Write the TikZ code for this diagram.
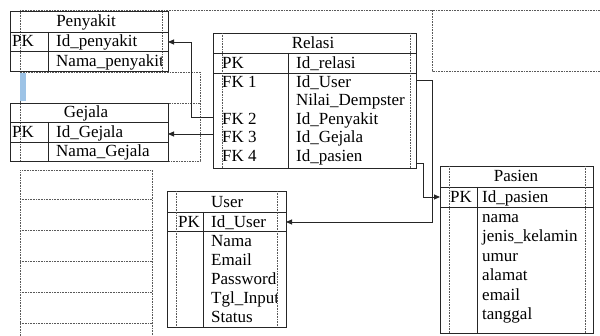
\documentclass[tikz,border=0pt]{standalone}
\usepackage{fontspec}
\setmainfont{Liberation Serif}
\usetikzlibrary{arrows.meta}
\definecolor{barblue}{RGB}{157,195,230}
\begin{document}
\begin{tikzpicture}[x=1pt,y=-1pt,
 solidl/.style={line width=0.9pt,black!85},
 dotl/.style={line width=0.7pt,black!65,dash pattern=on 0.8pt off 0.8pt},
 txt/.style={anchor=west,inner sep=0pt,font=\fontsize{17}{17}\selectfont,text height=11.5pt,text depth=3pt},
 hdr/.style={txt,anchor=center},
 conn/.style={line width=0.9pt,black!85,-{Triangle[length=6pt,width=5pt]}}]
\useasboundingbox (0,0) rectangle (600,336);
\fill[white] (0,0) rectangle (600,336);

% ---------- dotted frames ----------
\draw[dotl] (20,10) -- (600,10);
\draw[dotl] (20,10) -- (20,71) -- (162,71) -- (162,10);
\draw[dotl] (600,71) -- (432,71) -- (432,10);
\draw[dotl] (20,72) rectangle (200,161);
\draw[dotl] (20,103) -- (200,103);
\fill[barblue] (20,73) rectangle (26,101);
% left stack of empty boxes
\draw[dotl] (20,336) -- (20,170) -- (152,170) -- (152,336);
\foreach \yy in {199,230,261,292,323} \draw[dotl] (20,\yy) -- (152,\yy);

% ---------- Penyakit ----------
\draw[solidl] (10,11) rectangle (168,71);
\draw[solidl] (10,32) -- (168,32) (10,51) -- (168,51) (48,32) -- (48,71);
\node[hdr] (penT) at (86,22) {Penyakit};
\node[txt] (penPK) at (12,42) {PK};
\begin{scope}
\clip (0,0) rectangle (161,336);
\node[txt] (penId) at (56,42) {Id\_penyakit};
\node[txt] (penNm) at (56,62) {Nama\_penyakit};
\end{scope}
\coordinate (penIn) at (168,42);

% ---------- Gejala ----------
\draw[solidl] (10,103) rectangle (168,161);
\draw[solidl] (10,122) -- (168,122) (10,142) -- (168,142) (48,122) -- (48,161);
\node[hdr] (gejT) at (86,113) {Gejala};
\node[txt] (gejPK) at (12,133) {PK};
\node[txt] (gejId) at (56,133) {Id\_Gejala};
\node[txt] (gejNm) at (56,152) {Nama\_Gejala};
\coordinate (gejIn) at (168,134);

% ---------- Relasi ----------
\draw[solidl] (213,33) rectangle (416,168);
\draw[solidl] (213,53) -- (416,53) (213,73) -- (416,73) (288,53) -- (288,168);
\draw[dotl] (222,33) -- (222,168) (410,33) -- (410,168);
\node[hdr] (relT) at (313,44) {Relasi};
\node[txt] (relPK) at (222,64) {PK};
\node[txt] (relId) at (296,64) {Id\_relasi};
\node[txt] (relF1) at (222,83) {FK 1};
\node[txt] (relU) at (296,83) {Id\_User};
\node[txt] (relN) at (296,101.5) {Nilai\_Dempster};
\node[txt] (relF2) at (222,120) {FK 2};
\node[txt] (relP) at (296,120) {Id\_Penyakit};
\node[txt] (relF3) at (222,138.5) {FK 3};
\node[txt] (relG) at (296,138.5) {Id\_Gejala};
\node[txt] (relF4) at (222,157) {FK 4};
\node[txt] (relPs) at (296,157) {Id\_pasien};
\coordinate (relOutP) at (213,117);
\coordinate (relOutG) at (213,134);
\coordinate (relOutU) at (416,80);
\coordinate (relOutPs) at (416,163);

% ---------- User ----------
\draw[solidl] (167,191) rectangle (286,327);
\draw[solidl] (167,212) -- (286,212) (167,231) -- (286,231) (203,212) -- (203,327);
\draw[dotl] (176,191) -- (176,327) (277,191) -- (277,327);
\node[txt] (usrT) at (211,203) {User};
\node[txt] (usrPK) at (178,223) {PK};
\begin{scope}
\clip (0,0) rectangle (276.5,336);
\node[txt] (usrId) at (211,223) {Id\_User};
\node[txt] (usr1) at (211,242) {Nama};
\node[txt] (usr2) at (211,261) {Email};
\node[txt] (usr3) at (211,280) {Password};
\node[txt] (usr4) at (211,299) {Tgl\_Input};
\node[txt] (usr5) at (211,318) {Status};
\end{scope}
\coordinate (usrIn) at (286,222);

% ---------- Pasien ----------
\draw[solidl] (440,166) rectangle (593,333);
\draw[solidl] (440,187) -- (593,187) (440,207) -- (593,207) (477,187) -- (477,333);
\draw[dotl] (449,166) -- (449,333) (585,166) -- (585,333);
\node[hdr] (pasT) at (516,177) {Pasien};
\node[txt] (pasPK) at (450,198) {PK};
\node[txt] (pasId) at (482,198) {Id\_pasien};
\node[txt] (pas1) at (482,218) {nama};
\node[txt] (pas2) at (482,237) {jenis\_kelamin};
\node[txt] (pas3) at (482,257) {umur};
\node[txt] (pas4) at (482,276) {alamat};
\node[txt] (pas5) at (482,296) {email};
\node[txt] (pas6) at (482,315) {tanggal};
\coordinate (pasIn) at (440,197);

% ---------- connectors ----------
\draw[conn] (relOutP) -- ++(-22,0) |- (penIn);
\draw[conn] (relOutG) -- (gejIn);
\draw[conn] (relOutU) -- ++(16,0) |- (usrIn);
\draw[conn] (relOutPs) -- ++(7,0) |- (pasIn);
\end{tikzpicture}
\end{document}
